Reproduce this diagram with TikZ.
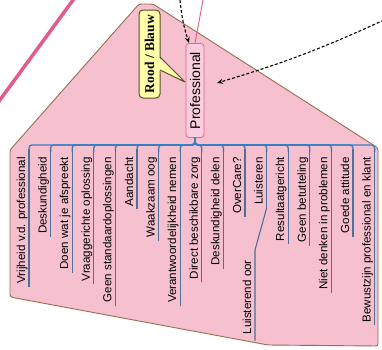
\documentclass[tikz,border=0pt]{standalone}
\usepackage{fontspec}
\setmainfont{Liberation Sans}
\newfontfamily\notefont{Liberation Serif}
\usetikzlibrary{arrows.meta,calc}

\definecolor{areapink}{RGB}{246,192,206}
\definecolor{areaedge}{RGB}{150,110,80}
\definecolor{topicpink}{RGB}{250,206,222}
\definecolor{topicedge}{RGB}{226,100,150}
\definecolor{notefill}{RGB}{255,255,170}
\definecolor{noteedge}{RGB}{90,80,40}
\definecolor{branchblue}{RGB}{55,125,195}
\definecolor{leafline}{RGB}{75,112,155}
\definecolor{linkpink}{RGB}{226,92,138}

\begin{document}
\begin{tikzpicture}[x=1pt,y=-1pt,
  leaf/.style={rotate=90, anchor=base east, inner sep=0pt,
               font=\fontsize{11.6}{13}\selectfont},
  branch/.style={draw=branchblue, line width=1.3pt, rounded corners=3pt},
  stem/.style={draw=leafline, line width=1.1pt},
  dasharrow/.style={draw=black, line width=1.1pt, dash pattern=on 3pt off 2pt,
                    -{Stealth[length=6pt,width=5pt]}},
]
\useasboundingbox (0,0) rectangle (382,349);

% background area
\draw[fill=areapink, draw=areaedge, line width=0.9pt, rounded corners=2.5pt]
  (10,150) -- (139,4) -- (153,4) -- (378,148) -- (378,346) -- (268,345)
  -- (10,297) -- cycle;

% thick pink relation line
\coordinate (relA) at (76,-4);
\coordinate (relB) at (-3,104);
\draw[linkpink, line width=3.5pt] (relA) -- (relB);

% central topic
\node[rotate=90, draw=topicedge, fill=topicpink, rounded corners=3pt,
      line width=0.8pt, minimum width=94pt, minimum height=18pt, inner sep=0pt,
      font=\fontsize{14}{16}\selectfont] (prof) at (195,90.5) {Professional};

% subtopics
\foreach \x/\t [count=\i] in {
  29/Vrijheid v.d. professional,
  50.6/Deskundigheid,
  72.2/Doen wat je afspreekt,
  93.8/Vraaggerichte oplossing,
  115.4/Geen standaardoplossingen,
  137/Aandacht,
  158.6/Waakzaam oog,
  180.2/Verantwoordelijkheid nemen,
  201.8/Direct beschikbare zorg,
  223.4/Deskundigheid delen,
  245/OverCare?,
  266.6/Luisteren,
  288.2/Resultaatgericht,
  309.8/Geen betutteling,
  331.4/Niet denken in problemen,
  353/Goede attitude,
  374.6/Bewustzijn professional en klant}{
  \node[leaf] (c\i) at (\x-4,157) {\t};
  \draw[branch] (prof.west) -- (195,145) -- (\x,145) -- (\x,152);
  \draw[stem] (\x,149) -- ([xshift=4pt,yshift=-3pt]c\i.base west);
}

% sub-subtopic under "Luisteren"
\node[leaf] (sub) at (251,260) {Luisterend oor};
\draw[stem] ([xshift=4pt,yshift=-3pt]c12.base west) -- (255,250)
  -- ([xshift=4pt,yshift=-6pt]sub.base west);

% callout note
\draw[fill=notefill, draw=noteedge, line width=1pt, rounded corners=4pt]
  (139,10) rectangle (160,98);
\fill[notefill] (158.8,57.6) -- (185,82) -- (158.8,70.4) -- cycle;
\draw[noteedge, line width=1pt, line join=round] (160,57) -- (185,82) -- (160,70);
\node[rotate=90, inner sep=0pt, font=\notefont\bfseries\fontsize{13.5}{15}\selectfont]
  (note) at (149.5,54) {Rood / Blauw};

% incoming links
\coordinate (linkTop) at (203,0);
\draw[linkpink, line width=0.9pt] (linkTop) -- (prof.east);

\coordinate (srcA) at (180,0);
\coordinate (tipA) at (189,43);
\draw[dasharrow] (srcA) to[bend right=6] (tipA);

\coordinate (srcB) at (384,20);
\coordinate (tipB) at (217,83);
\draw[dasharrow] (srcB) to[bend left=4] (tipB);
\end{tikzpicture}
\end{document}
